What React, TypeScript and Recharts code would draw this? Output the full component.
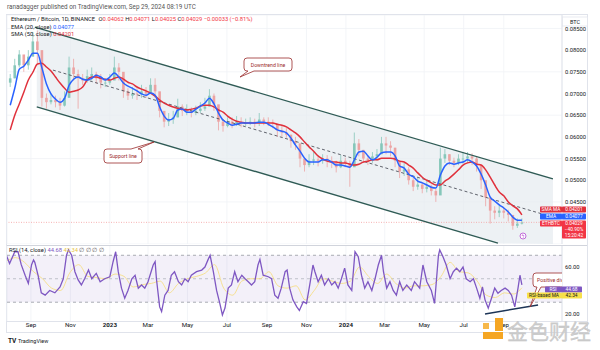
import React from "react";
import {
  ComposedChart,
  Bar,
  Line,
  Area,
  XAxis,
  YAxis,
  CartesianGrid,
  ReferenceLine,
  ReferenceArea,
} from "recharts";

// days are counted from 2023-01-01; one candle per week
const FIRST_WEEK = -154;
const OPEN_FIRST = 0.0725;

const CLOSE = [
  0.0735, 0.0765, 0.079, 0.0765, 0.0785, 0.082, 0.08, 0.069, 0.068, 0.0685,
  0.068, 0.0672, 0.069, 0.076, 0.0745, 0.0735, 0.073, 0.074, 0.0745, 0.0735,
  0.0725, 0.0725, 0.073, 0.076, 0.075, 0.0705, 0.0695, 0.07, 0.0698, 0.0705,
  0.07, 0.072, 0.0705, 0.066, 0.0635, 0.064, 0.0645, 0.067, 0.066, 0.066,
  0.0655, 0.066, 0.0665, 0.067, 0.0695, 0.0675, 0.0635, 0.0625, 0.0635, 0.063,
  0.0635, 0.063, 0.0632, 0.0635, 0.0632, 0.064, 0.0635, 0.0632, 0.063, 0.0615,
  0.061, 0.0605, 0.059, 0.0585, 0.055, 0.0535, 0.0545, 0.0548, 0.0545, 0.055,
  0.0545, 0.054, 0.053, 0.0545, 0.054, 0.053, 0.0585, 0.057, 0.055, 0.0545,
  0.0555, 0.056, 0.0585, 0.058, 0.0575, 0.0545, 0.052, 0.0525, 0.05, 0.0485,
  0.049, 0.048, 0.0485, 0.0475, 0.0465, 0.055, 0.056, 0.0545, 0.054, 0.055,
  0.055, 0.0555, 0.055, 0.0535, 0.05, 0.046, 0.043, 0.0425, 0.043, 0.0425,
  0.042, 0.0395, 0.04, 0.04029,
];
const HIGH = [
  0.0745, 0.078, 0.08, 0.0785, 0.08, 0.0842, 0.0845, 0.079, 0.07, 0.07,
  0.0695, 0.069, 0.0705, 0.0785, 0.078, 0.0755, 0.0745, 0.0755, 0.076, 0.075,
  0.0745, 0.0735, 0.0745, 0.0785, 0.077, 0.0745, 0.0712, 0.0715, 0.0712, 0.072,
  0.0715, 0.0735, 0.0735, 0.07, 0.0655, 0.0655, 0.066, 0.0688, 0.0675, 0.0675,
  0.0668, 0.0672, 0.068, 0.069, 0.071, 0.07, 0.0665, 0.064, 0.0645, 0.0645,
  0.0648, 0.0645, 0.0642, 0.0645, 0.0642, 0.0655, 0.0645, 0.0645, 0.064, 0.063,
  0.0625, 0.062, 0.0605, 0.06, 0.058, 0.055, 0.056, 0.0565, 0.0558, 0.056,
  0.0558, 0.0555, 0.0545, 0.0558, 0.0552, 0.0545, 0.061, 0.0595, 0.057, 0.0558,
  0.0565, 0.0572, 0.06, 0.06, 0.059, 0.0575, 0.0545, 0.054, 0.053, 0.0505,
  0.0505, 0.0495, 0.05, 0.049, 0.048, 0.0575, 0.0572, 0.056, 0.0552, 0.056,
  0.0565, 0.0565, 0.0562, 0.0555, 0.053, 0.0495, 0.046, 0.044, 0.0445, 0.0438,
  0.0432, 0.0415, 0.0412, 0.0412,
];
const LOW = [
  0.0715, 0.0735, 0.076, 0.075, 0.0755, 0.079, 0.077, 0.067, 0.0665, 0.0675,
  0.0668, 0.0662, 0.067, 0.07, 0.073, 0.0665, 0.072, 0.0725, 0.073, 0.0722,
  0.0712, 0.0715, 0.072, 0.0735, 0.073, 0.069, 0.0685, 0.0688, 0.0685, 0.069,
  0.069, 0.07, 0.069, 0.0645, 0.0622, 0.0625, 0.063, 0.0645, 0.0648, 0.065,
  0.0645, 0.065, 0.0655, 0.066, 0.067, 0.066, 0.0615, 0.0612, 0.0622, 0.062,
  0.0625, 0.0622, 0.0625, 0.0627, 0.0622, 0.0625, 0.0627, 0.0625, 0.062, 0.06,
  0.06, 0.0598, 0.0575, 0.057, 0.053, 0.052, 0.053, 0.0535, 0.0532, 0.0538,
  0.053, 0.0528, 0.0518, 0.0528, 0.053, 0.0485, 0.054, 0.0555, 0.054, 0.0535,
  0.054, 0.0545, 0.056, 0.056, 0.0555, 0.053, 0.0505, 0.051, 0.049, 0.0475,
  0.0478, 0.047, 0.0472, 0.0465, 0.045, 0.047, 0.054, 0.0535, 0.053, 0.0535,
  0.0538, 0.054, 0.0535, 0.052, 0.048, 0.044, 0.04, 0.041, 0.0415, 0.0412,
  0.0405, 0.0386, 0.039, 0.0398,
];
const EMA20 = [
  0.0673, 0.0712, 0.0756, 0.0763, 0.0777, 0.0793, 0.0793, 0.0759, 0.0722, 0.0699,
  0.0687, 0.068, 0.0689, 0.0719, 0.0733, 0.0738, 0.0733, 0.0731, 0.0735, 0.0742,
  0.0738, 0.0731, 0.0738, 0.0747, 0.0738, 0.0724, 0.0717, 0.0712, 0.0706, 0.0699,
  0.0696, 0.0701, 0.0696, 0.0669, 0.0648, 0.0639, 0.0643, 0.0662, 0.0664, 0.0657,
  0.0657, 0.0664, 0.0671, 0.0678, 0.0689, 0.0676, 0.0655, 0.0639, 0.0632, 0.0627,
  0.0629, 0.0632, 0.0632, 0.0632, 0.0632, 0.0634, 0.0634, 0.0629, 0.0623, 0.0616,
  0.0613, 0.0609, 0.0597, 0.0581, 0.0567, 0.0551, 0.0542, 0.0542, 0.0542, 0.0547,
  0.0547, 0.0542, 0.0535, 0.0535, 0.0533, 0.053, 0.0547, 0.0565, 0.0567, 0.0556,
  0.0547, 0.0553, 0.0563, 0.0565, 0.0565, 0.0556, 0.0533, 0.0528, 0.0514, 0.0508,
  0.0498, 0.0494, 0.0489, 0.0484, 0.0482, 0.0512, 0.0533, 0.054, 0.0537, 0.054,
  0.0542, 0.0547, 0.0542, 0.0533, 0.0514, 0.0489, 0.0461, 0.0452, 0.0443, 0.0436,
  0.0427, 0.0415, 0.0408, 0.04077,
];
const SMA50 = [
  0.0616, 0.065, 0.0676, 0.0703, 0.0731, 0.0749, 0.0768, 0.077, 0.0761, 0.0752,
  0.0738, 0.0724, 0.0712, 0.0703, 0.0705, 0.0708, 0.0715, 0.0731, 0.0738, 0.0738,
  0.0735, 0.0733, 0.0731, 0.0735, 0.0738, 0.0733, 0.0726, 0.0722, 0.0715, 0.071,
  0.0706, 0.0701, 0.0694, 0.0685, 0.0678, 0.0673, 0.0669, 0.0666, 0.0664, 0.0662,
  0.0664, 0.0666, 0.0671, 0.0673, 0.0673, 0.0669, 0.0662, 0.0657, 0.0648, 0.0641,
  0.0636, 0.0634, 0.0632, 0.0632, 0.0632, 0.0632, 0.0632, 0.0632, 0.0632, 0.0629,
  0.0627, 0.0623, 0.0616, 0.0609, 0.06, 0.0588, 0.0577, 0.0567, 0.0556, 0.0549,
  0.0544, 0.0542, 0.0542, 0.054, 0.054, 0.0537, 0.0535, 0.0537, 0.0542, 0.0544,
  0.0547, 0.0547, 0.0551, 0.0551, 0.0551, 0.0549, 0.0544, 0.0542, 0.0535, 0.0528,
  0.0517, 0.0507, 0.05, 0.0494, 0.0489, 0.0489, 0.0498, 0.0505, 0.0514, 0.0524,
  0.0535, 0.054, 0.0542, 0.0537, 0.0535, 0.0524, 0.0507, 0.0489, 0.0473, 0.0464,
  0.045, 0.0441, 0.0434, 0.04201,
];

// hand-drawn channel: [day, price]
const UPPER_LINE = [[-116, 0.0853], [685, 0.0503]];
const LOWER_LINE = [[-113, 0.0669], [600, 0.0355]];
const MID_LINE = [[-88, 0.0754], [685, 0.0415]];
const CHANNEL_FILL = [
  [-113, 0.0669, 0.0852],
  [600, 0.0355, 0.054],
  [685, 0.0353, 0.0503],
];

// RSI(14): [day, value]
const RSI = [
  [-160, 70], [-155, 63], [-147, 73], [-142, 73], [-137, 62], [-131, 53], [-126, 46],
  [-121, 62], [-118, 66], [-116, 64], [-111, 53], [-106, 38], [-100, 36], [-93, 40],
  [-85, 38], [-77, 43], [-72, 50], [-67, 70], [-64, 74.5], [-59, 70], [-54, 56],
  [-49, 49], [-44, 44.7], [-39, 50], [-33, 57.4], [-28, 50], [-21, 54.6], [-15, 47.5],
  [-8, 50], [0, 51.7], [5, 64.5], [9, 73], [13, 56], [18, 42], [23, 33.4], [28, 40],
  [34, 50], [39, 53], [44, 42], [49, 44.7], [54, 42], [59, 47.5], [67, 61.7], [70, 64.5],
  [72, 50], [77, 26], [80, 22], [85, 36], [90, 40], [95, 53], [100, 56], [106, 47.5],
  [111, 44.7], [116, 50], [121, 47.5], [126, 53], [134, 56], [142, 57.4], [147, 60],
  [152, 66.5], [155, 70], [160, 56], [165, 40], [170, 29], [174, 19.2], [178, 25],
  [183, 42], [188, 44.7], [193, 56], [198, 47.5], [204, 53], [209, 50], [214, 47.5],
  [219, 44.7], [224, 47.5], [229, 61.7], [232, 66.5], [237, 53], [245, 51.7], [250, 50],
  [255, 36], [260, 33.4], [265, 42], [271, 56], [274, 57.4], [278, 42], [283, 32],
  [289, 26], [293, 23], [299, 30.5], [304, 29], [309, 44.7], [314, 61.7], [317, 56],
  [322, 47.5], [327, 53], [332, 44.7], [338, 50], [343, 44.7], [348, 47.5], [353, 42],
  [358, 50], [363, 59], [368, 44.7], [374, 40], [379, 73], [384, 68.8], [389, 53],
  [394, 42], [399, 47.5], [405, 40], [410, 50], [415, 61.7], [420, 70], [423, 56],
  [428, 42], [433, 47.5], [438, 40], [443, 36], [448, 47.5], [453, 40], [459, 44.7],
  [466, 40], [471, 47.5], [479, 42], [484, 61.7], [490, 47.5], [497, 40], [502, 29],
  [508, 70], [510, 74.5], [515, 68.8], [520, 61.7], [526, 50], [531, 56], [536, 59],
  [541, 56], [546, 60], [551, 50], [557, 47.5], [562, 50], [567, 42], [572, 33.4],
  [576, 43], [580, 32], [585, 25], [590, 33.4], [595, 42], [600, 37.6], [605, 40],
  [611, 42], [616, 40], [621, 36], [626, 26], [631, 42], [634, 53], [636, 47.5],
  [637, 44.68],
];
const RSI_MA = [
  [-160, 65], [-146, 68], [-132, 64], [-118, 56], [-104, 50], [-90, 42], [-76, 40],
  [-62, 55], [-48, 62], [-34, 52], [-20, 51], [-6, 50], [8, 54], [22, 52], [36, 43],
  [50, 45], [64, 46], [78, 48], [92, 38], [106, 46], [120, 50], [134, 52], [148, 55],
  [162, 62], [176, 42], [190, 36], [204, 48], [218, 50], [232, 50], [246, 56], [260, 44],
  [274, 42], [288, 44], [302, 32], [316, 40], [330, 50], [344, 48], [358, 46], [372, 48],
  [386, 60], [400, 52], [414, 46], [428, 54], [442, 46], [456, 42], [470, 44], [484, 44],
  [498, 45], [512, 52], [526, 64], [540, 56], [554, 55], [568, 48], [582, 36], [596, 34],
  [610, 38], [624, 37], [637, 42.34],
];
const RSI_TREND = [[580, 20], [662, 27.7]];

const MONTH_TICKS = [-122, -61, 0, 59, 120, 181, 243, 304, 365, 425, 486, 547, 609];
const MONTH_LABELS = ["Sep", "Nov", "2023", "Mar", "May", "Jul", "Sep", "Nov", "2024", "Mar", "May", "Jul", "Sep"];
const PRICE_TICKS = [0.045, 0.05, 0.055, 0.06, 0.065, 0.07, 0.075, 0.08, 0.085];
const RSI_TICKS = [20, 60];

const X_DOMAIN = [-159, 699];
const FONT = "Roboto, 'Liberation Sans', Arial, sans-serif";
const UP = "#86c7ba";
const DOWN = "#eca3a3";
const EMA_C = "#2962ff";
const SMA_C = "#e0313c";
const CHANNEL_C = "#2f5b55";
const RSI_C = "#7e57c2";

const priceData: any[] = [];
CLOSE.forEach((c, i) => {
  priceData.push({
    d: FIRST_WEEK + 7 * i,
    open: i === 0 ? OPEN_FIRST : CLOSE[i - 1],
    close: c,
    range: [LOW[i], HIGH[i]],
    ema: EMA20[i],
    sma: SMA50[i],
  });
});
UPPER_LINE.forEach(([d, v]) => priceData.push({ d, upper: v }));
LOWER_LINE.forEach(([d, v]) => priceData.push({ d, lower: v }));
MID_LINE.forEach(([d, v]) => priceData.push({ d, mid: v }));
CHANNEL_FILL.forEach(([d, lo, hi]) => priceData.push({ d, band: [lo, hi] }));
priceData.sort((a, b) => a.d - b.d);

const rsiData: any[] = [];
RSI.forEach(([d, v]) => rsiData.push({ d, rsi: v }));
RSI_MA.forEach(([d, v]) => rsiData.push({ d, ma: v }));
RSI_TREND.forEach(([d, v]) => rsiData.push({ d, trend: v }));
rsiData.sort((a, b) => a.d - b.d);

const Candle = (props: any) => {
  const { x, y, width, height, payload } = props;
  if (!payload || !payload.range) return null;
  const [lo, hi] = payload.range;
  const top = Math.min(y, y + height);
  const h = Math.abs(height);
  const span = hi - lo || 1e-9;
  const toY = (v: number) => top + ((hi - v) / span) * h;
  const cx = x + width / 2;
  const color = payload.close >= payload.open ? UP : DOWN;
  const yo = toY(payload.open);
  const yc = toY(payload.close);
  return (
    <g>
      <line x1={cx} x2={cx} y1={top} y2={top + h} stroke={color} strokeWidth={0.8} />
      <rect x={cx - 1.3} y={Math.min(yo, yc)} width={2.6} height={Math.max(0.8, Math.abs(yo - yc))} fill={color} />
    </g>
  );
};

const MonthTick = (props: any) => {
  const { x, y, payload } = props;
  const i = MONTH_TICKS.indexOf(payload.value);
  const label = MONTH_LABELS[i] || "";
  const year = label.length === 4;
  return (
    <text x={x} y={y + 6} textAnchor="middle" fontSize={6.2} fontWeight={year ? 700 : 400} fill="#131722" fontFamily={FONT}>
      {label}
    </text>
  );
};

const Txt: React.FC<{ x: number; y: number; size?: number; color?: string; children: React.ReactNode }> = ({
  x,
  y,
  size = 6,
  color = "#131722",
  children,
}) => (
  <div
    style={{
      position: "absolute",
      left: x,
      top: y,
      fontSize: size,
      lineHeight: 1,
      color,
      whiteSpace: "nowrap",
      fontFamily: FONT,
    }}
  >
    {children}
  </div>
);

const Badge: React.FC<{ x: number; y: number; w: number; h?: number; bg: string; color?: string; lines: string[] }> = ({
  x,
  y,
  w,
  h = 6,
  bg,
  color = "#fff",
  lines,
}) => (
  <g>
    <rect x={x} y={y} width={w} height={h} fill={bg} rx={0.8} />
    {lines.map((t, i) => (
      <text key={i} x={x + w / 2} y={y + 4.6 + i * 6} textAnchor="middle" fontSize={4.8} fill={color} fontFamily={FONT}>
        {t}
      </text>
    ))}
  </g>
);

export default function App() {
  const red = "#f23645";
  return (
    <div style={{ position: "absolute", left: 0, top: 0, width: 600, height: 350, background: "#fff", overflow: "hidden", fontFamily: FONT }}>
      <Txt x={7} y={3.5} size={6.3} color="#555">
        ranadagger published on TradingView.com, Sep 29, 2024 08:19 UTC
      </Txt>

      <div style={{ position: "absolute", left: 6, top: 14, width: 582, height: 319, border: "1px solid #e0e3eb", boxSizing: "border-box" }} />
      <div style={{ position: "absolute", left: 7, top: 245, width: 580, height: 1, background: "#d1d4dc" }} />
      <div style={{ position: "absolute", left: 7, top: 321, width: 580, height: 1, background: "#e0e3eb" }} />

      <div style={{ position: "absolute", left: 0, top: 15 }}>
        <ComposedChart width={600} height={229} data={priceData} margin={{ top: 0, right: 0, bottom: 0, left: 7 }}>
          <CartesianGrid stroke="#f0f2f6" strokeWidth={0.8} />
          <XAxis dataKey="d" type="number" domain={X_DOMAIN} ticks={MONTH_TICKS} allowDataOverflow hide />
          <YAxis
            orientation="right"
            type="number"
            domain={[0.0353, 0.0881]}
            ticks={PRICE_TICKS}
            allowDataOverflow
            width={38}
            tickSize={0}
            tickMargin={3}
            tickLine={false}
            axisLine={{ stroke: "#e0e3eb" }}
            tick={{ fontSize: 5.8, fill: "#131722", fontFamily: FONT }}
            tickFormatter={(v: number) => v.toFixed(5)}
          />
          <Area dataKey="band" type="linear" stroke="none" fill="#e6ebef" fillOpacity={0.7} connectNulls isAnimationActive={false} />
          <Line dataKey="mid" type="linear" stroke="#50545e" strokeWidth={0.9} strokeDasharray="3 2.5" dot={false} connectNulls isAnimationActive={false} />
          <ReferenceLine y={0.04029} stroke="#f4a0a0" strokeDasharray="1 1.5" strokeWidth={0.8} />
          <Bar dataKey="range" barSize={3} shape={<Candle />} isAnimationActive={false} />
          <Line dataKey="sma" type="monotone" stroke={SMA_C} strokeWidth={1.5} dot={false} connectNulls isAnimationActive={false} />
          <Line dataKey="ema" type="monotone" stroke={EMA_C} strokeWidth={1.5} dot={false} connectNulls isAnimationActive={false} />
          <Line dataKey="upper" type="linear" stroke={CHANNEL_C} strokeWidth={1.4} dot={false} connectNulls isAnimationActive={false} />
          <Line dataKey="lower" type="linear" stroke={CHANNEL_C} strokeWidth={1.4} dot={false} connectNulls isAnimationActive={false} />
        </ComposedChart>
      </div>

      <div style={{ position: "absolute", left: 0, top: 246 }}>
        <ComposedChart width={600} height={87} data={rsiData} margin={{ top: 0, right: 0, bottom: 0, left: 7 }}>
          <CartesianGrid stroke="#f0f2f6" strokeWidth={0.8} horizontal={false} />
          <XAxis
            dataKey="d"
            type="number"
            domain={X_DOMAIN}
            ticks={MONTH_TICKS}
            allowDataOverflow
            height={12}
            tickSize={0}
            tickMargin={0}
            tickLine={false}
            axisLine={false}
            tick={<MonthTick />}
            interval={0}
          />
          <YAxis
            orientation="right"
            type="number"
            domain={[14, 77.9]}
            ticks={RSI_TICKS}
            allowDataOverflow
            width={38}
            tickSize={0}
            tickMargin={3}
            tickLine={false}
            axisLine={{ stroke: "#e0e3eb" }}
            tick={{ fontSize: 5.8, fill: "#131722", fontFamily: FONT }}
            tickFormatter={(v: number) => v.toFixed(2)}
          />
          <ReferenceArea y1={30} y2={70} fill={RSI_C} fillOpacity={0.09} stroke="none" />
          <ReferenceLine y={70} stroke="#9598a1" strokeDasharray="3 3" strokeWidth={0.8} />
          <ReferenceLine y={50} stroke="#b2b5be" strokeDasharray="3 3" strokeWidth={0.8} />
          <ReferenceLine y={30} stroke="#9598a1" strokeDasharray="3 3" strokeWidth={0.8} />
          <Line dataKey="ma" type="monotone" stroke="#f6dc78" strokeWidth={0.8} dot={false} connectNulls isAnimationActive={false} />
          <Line dataKey="rsi" type="linear" stroke={RSI_C} strokeWidth={1.3} dot={false} connectNulls isAnimationActive={false} />
          <Line dataKey="trend" type="linear" stroke="#1d3557" strokeWidth={1.5} dot={false} connectNulls isAnimationActive={false} />
        </ComposedChart>
      </div>

      <Txt x={11} y={17} size={5.8}>
        Ethereum / Bitcoin, 1D, BINANCE <span style={{ marginLeft: 2 }}>O</span>
        <span style={{ color: red }}>0.04062</span> <span>H</span>
        <span style={{ color: red }}>0.04071</span> <span>L</span>
        <span style={{ color: red }}>0.04025</span> <span>C</span>
        <span style={{ color: red }}>0.04029</span> <span style={{ color: red }}>−0.00033 (−0.81%)</span>
      </Txt>
      <Txt x={11} y={24.5} size={5.8}>
        EMA (20, close) <span style={{ color: EMA_C }}>0.04077</span>
      </Txt>
      <Txt x={11} y={31.5} size={5.8}>
        SMA (50, close) <span style={{ color: SMA_C }}>0.04201</span>
      </Txt>
      <Txt x={9} y={248} size={5.8}>
        RSI (14, close) <span style={{ color: RSI_C }}>44.68</span>{" "}
        <span style={{ color: "#e8c547" }}>42.34</span>{" "}
        <span style={{ color: "#555" }}>∅ ∅ ∅ ∅</span>
      </Txt>

      <svg width={600} height={350} style={{ position: "absolute", left: 0, top: 0, pointerEvents: "none" }}>
        <defs>
          <clipPath id="plotClip">
            <rect x={7} y={246} width={555} height={75} />
          </clipPath>
        </defs>
        {/* BTC unit box */}
        <rect x={562.5} y={17} width={25} height={9} fill="#fff" stroke="#e0e3eb" strokeWidth={0.7} />
        <text x={575} y={23.5} textAnchor="middle" fontSize={5.5} fill="#131722" fontFamily={FONT}>
          BTC
        </text>

        {/* callouts */}
        <path
          d="M247,58 H289 Q292,58 292,61 V68 Q292,71 289,71 H254 L240,77 L248,71 H247 Q244,71 244,68 V61 Q244,58 247,58 Z"
          fill="#fff"
          stroke="#9b2c2c"
          strokeWidth={0.8}
        />
        <text x={268} y={66.5} textAnchor="middle" fontSize={5.2} fill="#9b2c2c" fontFamily={FONT}>
          Downtrend line
        </text>
        <path
          d="M107,149 H131 L154,142 L138,149 H139 Q142,149 142,152 V160 Q142,163 139,163 H107 Q104,163 104,160 V152 Q104,149 107,149 Z"
          fill="#fff"
          stroke="#9b2c2c"
          strokeWidth={0.8}
        />
        <text x={123} y={158} textAnchor="middle" fontSize={5.2} fill="#9b2c2c" fontFamily={FONT}>
          Support line
        </text>
        <g clipPath="url(#plotClip)">
          <path
            d="M536,273 H578 Q581,273 581,276 V284 Q581,287 578,287 H541 L530,307 L537,287 H536 Q533,287 533,284 V276 Q533,273 536,273 Z"
            fill="#fff"
            stroke="#9b2c2c"
            strokeWidth={0.8}
          />
          <text x={537} y={282} fontSize={5.2} fill="#9b2c2c" fontFamily={FONT}>
            Positive divergence
          </text>
        </g>

        {/* lightning marker */}
        <circle cx={523} cy={236} r={3} fill="#fff" stroke="#b44ad1" strokeWidth={0.8} />
        <text x={523} y={238} textAnchor="middle" fontSize={4.5} fill="#b44ad1" fontFamily={FONT}>
          ϟ
        </text>

        {/* price scale badges */}
        <Badge x={540} y={206.5} w={22} bg={SMA_C} lines={["SMA MA"]} />
        <Badge x={562} y={206.5} w={24} bg={SMA_C} lines={["0.04201"]} />
        <Badge x={540} y={213.5} w={22} bg={EMA_C} lines={["EMA"]} />
        <Badge x={562} y={213.5} w={24} bg={EMA_C} lines={["0.04077"]} />
        <Badge x={540} y={220.5} w={22} bg={red} lines={["ETHBTC"]} />
        <Badge x={562} y={220.5} w={24} h={18} bg={red} lines={["0.04029", "−40.90%", "15:20:42"]} />

        {/* RSI badges */}
        <Badge x={545} y={286.5} w={16} bg={RSI_C} lines={["RSI"]} />
        <Badge x={561} y={286.5} w={21} bg={RSI_C} lines={["44.68"]} />
        <Badge x={527} y={292.5} w={34} bg="#f7e04a" color="#131722" lines={["RSI-based MA"]} />
        <Badge x={561} y={292.5} w={21} bg="#f7e04a" color="#131722" lines={["42.34"]} />

        {/* TradingView mark */}
        <text x={8} y={343} fontSize={6.5} fontWeight={700} fill="#131722" fontFamily={FONT}>
          TV
        </text>
        <text x={18} y={343} fontSize={5.5} fill="#131722" fontFamily={FONT}>
          TradingView
        </text>

        {/* watermark */}
        <rect x={495} y={318} width={8} height={13} fill="#f5a623" />
        <rect x={483} y={332} width={20} height={7} fill="#f5a623" />
        <rect x={483} y={323} width={6} height={6} fill="#f7b84a" />
        <text x={507} y={339} fontSize={21} fill="#cfcfcf" stroke="#bdbdbd" strokeWidth={0.3} fontFamily="'Noto Sans CJK SC', sans-serif">
          金色财经
        </text>
      </svg>
    </div>
  );
}
